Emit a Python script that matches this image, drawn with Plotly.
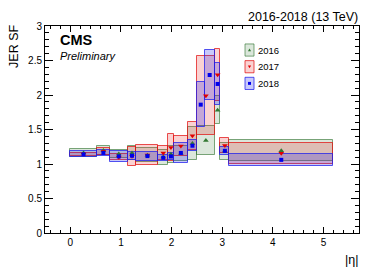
import plotly.graph_objects as go

# |eta| bin edges
edges_16_17 = [0.0, 0.522, 0.783, 1.131, 1.305, 1.740, 1.930, 2.043, 2.322, 2.500, 2.853, 2.964, 3.139, 5.191]
edges_18 = [0.0, 0.522, 0.783, 1.131, 1.305, 1.740, 1.930, 2.043, 2.322, 2.500, 2.650, 2.853, 2.964, 3.139, 5.191]

# JER scale factors and uncertainties
sf_2016 = [1.1595, 1.1948, 1.1464, 1.1609, 1.1278, 1.1000, 1.1426, 1.1512, 1.2963, 1.3418, 1.7788, 1.1869, 1.1922]
err_2016 = [0.0645, 0.0652, 0.0632, 0.1025, 0.0986, 0.1079, 0.1214, 0.1140, 0.2371, 0.2091, 0.2008, 0.1243, 0.1488]

sf_2017 = [1.1432, 1.1815, 1.0989, 1.1137, 1.1307, 1.1600, 1.2393, 1.2604, 1.4085, 1.9909, 2.2923, 1.2696, 1.1542]
err_2017 = [0.0222, 0.0484, 0.0456, 0.1397, 0.1470, 0.0976, 0.1909, 0.1501, 0.2020, 0.5684, 0.3743, 0.1089, 0.1524]

sf_2018 = [1.14, 1.16, 1.11, 1.12, 1.115, 1.09, 1.11, 1.16, 1.265, 1.86, 2.29, 2.16, 1.19, 1.06]
err_2018 = [0.045, 0.05, 0.08, 0.06, 0.065, 0.045, 0.055, 0.145, 0.08, 0.325, 0.365, 0.31, 0.06, 0.085]

years = ["2016", "2017", "2018"]

series = [
    dict(name=years[0], edges=edges_16_17, sf=sf_2016, err=err_2016,
         line="rgba(40,110,40,0.6)", fill="rgba(40,110,40,0.17)",
         mcol="rgb(50,120,50)", sym="triangle-up", msize=5),
    dict(name=years[1], edges=edges_16_17, sf=sf_2017, err=err_2017,
         line="rgba(225,20,20,0.75)", fill="rgba(230,30,30,0.2)",
         mcol="rgb(225,0,0)", sym="triangle-down", msize=5),
    dict(name=years[2], edges=edges_18, sf=sf_2018, err=err_2018,
         line="rgba(30,30,235,0.75)", fill="rgba(30,30,235,0.24)",
         mcol="rgb(0,0,235)", sym="square", msize=4),
]

fig = go.Figure()
for s in series:
    e = s["edges"]
    cen = [(a + b) / 2 for a, b in zip(e[:-1], e[1:])]
    wid = [b - a for a, b in zip(e[:-1], e[1:])]
    base = [v - u for v, u in zip(s["sf"], s["err"])]
    hgt = [2 * u for u in s["err"]]
    fig.add_trace(go.Bar(x=cen, y=hgt, base=base, width=wid,
                         marker=dict(color=s["fill"], line=dict(color=s["line"], width=1)),
                         showlegend=False, hoverinfo="skip"))
for s in series:
    e = s["edges"]
    cen = [(a + b) / 2 for a, b in zip(e[:-1], e[1:])]
    fig.add_trace(go.Scatter(x=cen, y=s["sf"], mode="markers",
                             marker=dict(symbol=s["sym"], size=s["msize"], color=s["mcol"],
                                         line=dict(width=0)),
                             showlegend=False, hoverinfo="skip"))

# the page body has an 8px margin: the figure starts at (8, 8) in the window
OFF = 8
W, H = 374 - OFF, 269 - OFF
# plot area in window pixels: x 45..359, y 22..233
ml, mr, mt, mb = 45 - OFF, 374 - 359, 22 - OFF, 269 - 233
pw, ph = W - ml - mr, H - mt - mb

def px(xp):
    # window pixel x -> paper x
    return (xp - OFF - ml) / pw

def py(yp):
    # window pixel y -> paper y
    return (H - mb - (yp - OFF)) / ph

font = "Liberation Sans, Arial, Helvetica, sans-serif"

shapes = []
annotations = []
# manual legend
leg_y = [46.5, 63.5, 80.5]
for s, yc in zip(series, leg_y):
    shapes.append(dict(type="rect", xref="paper", yref="paper",
                       x0=px(245), x1=px(254), y0=py(yc + 6.2), y1=py(yc - 6.2),
                       fillcolor=s["fill"], line=dict(color=s["line"], width=1)))
    cx, cy = 249.5, yc
    if s["sym"] == "triangle-up":
        path = f"M{px(cx-1.6)},{py(cy+1.3)} L{px(cx+1.6)},{py(cy+1.3)} L{px(cx)},{py(cy-1.5)} Z"
        shapes.append(dict(type="path", xref="paper", yref="paper", path=path,
                           fillcolor=s["mcol"], line=dict(width=0)))
    elif s["sym"] == "triangle-down":
        path = f"M{px(cx-1.6)},{py(cy-1.3)} L{px(cx+1.6)},{py(cy-1.3)} L{px(cx)},{py(cy+1.5)} Z"
        shapes.append(dict(type="path", xref="paper", yref="paper", path=path,
                           fillcolor=s["mcol"], line=dict(width=0)))
    else:
        shapes.append(dict(type="rect", xref="paper", yref="paper",
                           x0=px(cx - 1.5), x1=px(cx + 1.5), y0=py(cy + 1.5), y1=py(cy - 1.5),
                           fillcolor=s["mcol"], line=dict(width=0)))
    annotations.append(dict(text=s["name"], xref="paper", yref="paper", x=px(255.5), y=py(yc),
                            xanchor="left", yanchor="middle", showarrow=False,
                            font=dict(family=font, size=9.5, color="black")))

annotations += [
    dict(text="2016-2018 (13 TeV)", xref="paper", yref="paper", x=px(360), y=py(12.8),
         xanchor="right", yanchor="middle", showarrow=False,
         font=dict(family=font, size=12.5, color="black")),
    dict(text="<b>CMS</b>", xref="paper", yref="paper", x=px(57.5), y=py(36.3),
         xanchor="left", yanchor="middle", showarrow=False,
         font=dict(family=font, size=14.5, color="black")),
    dict(text="<i>Preliminary</i>", xref="paper", yref="paper", x=px(57.5), y=py(52.8),
         xanchor="left", yanchor="middle", showarrow=False,
         font=dict(family=font, size=11, color="black")),
    dict(text="JER SF", xref="paper", yref="paper", x=px(13.8), y=py(42.5),
         xanchor="center", yanchor="middle", textangle=-90, showarrow=False,
         font=dict(family=font, size=12.5, color="black")),
    dict(text="|η|", xref="paper", yref="paper", x=px(360), y=py(261),
         xanchor="right", yanchor="middle", showarrow=False,
         font=dict(family=font, size=12.5, color="black")),
]

fig.update_layout(
    width=W, height=H,
    margin=dict(l=ml, r=mr, t=mt, b=mb, pad=0),
    paper_bgcolor="white", plot_bgcolor="white",
    barmode="overlay", bargap=0,
    showlegend=False,
    shapes=shapes, annotations=annotations,
    font=dict(family=font, size=10, color="black"),
    xaxis=dict(range=[-0.5, 5.7], tickvals=[0, 1, 2, 3, 4, 5], ticks="inside", ticklen=6,
               tickcolor="black", tickwidth=1,
               minor=dict(dtick=0.2, tick0=0, ticks="inside", ticklen=3, tickcolor="black"),
               showline=True, linecolor="black", linewidth=1, mirror="ticks",
               showgrid=False, zeroline=False, tickfont=dict(size=10), fixedrange=True),
    yaxis=dict(range=[0, 3], dtick=0.5, tick0=0, ticks="inside", ticklen=8,
               tickcolor="black", tickwidth=1,
               minor=dict(dtick=0.1, tick0=0, ticks="inside", ticklen=4, tickcolor="black"),
               showline=True, linecolor="black", linewidth=1, mirror="ticks",
               showgrid=False, zeroline=False, tickfont=dict(size=10), fixedrange=True),
)

fig.write_html("out.html")
